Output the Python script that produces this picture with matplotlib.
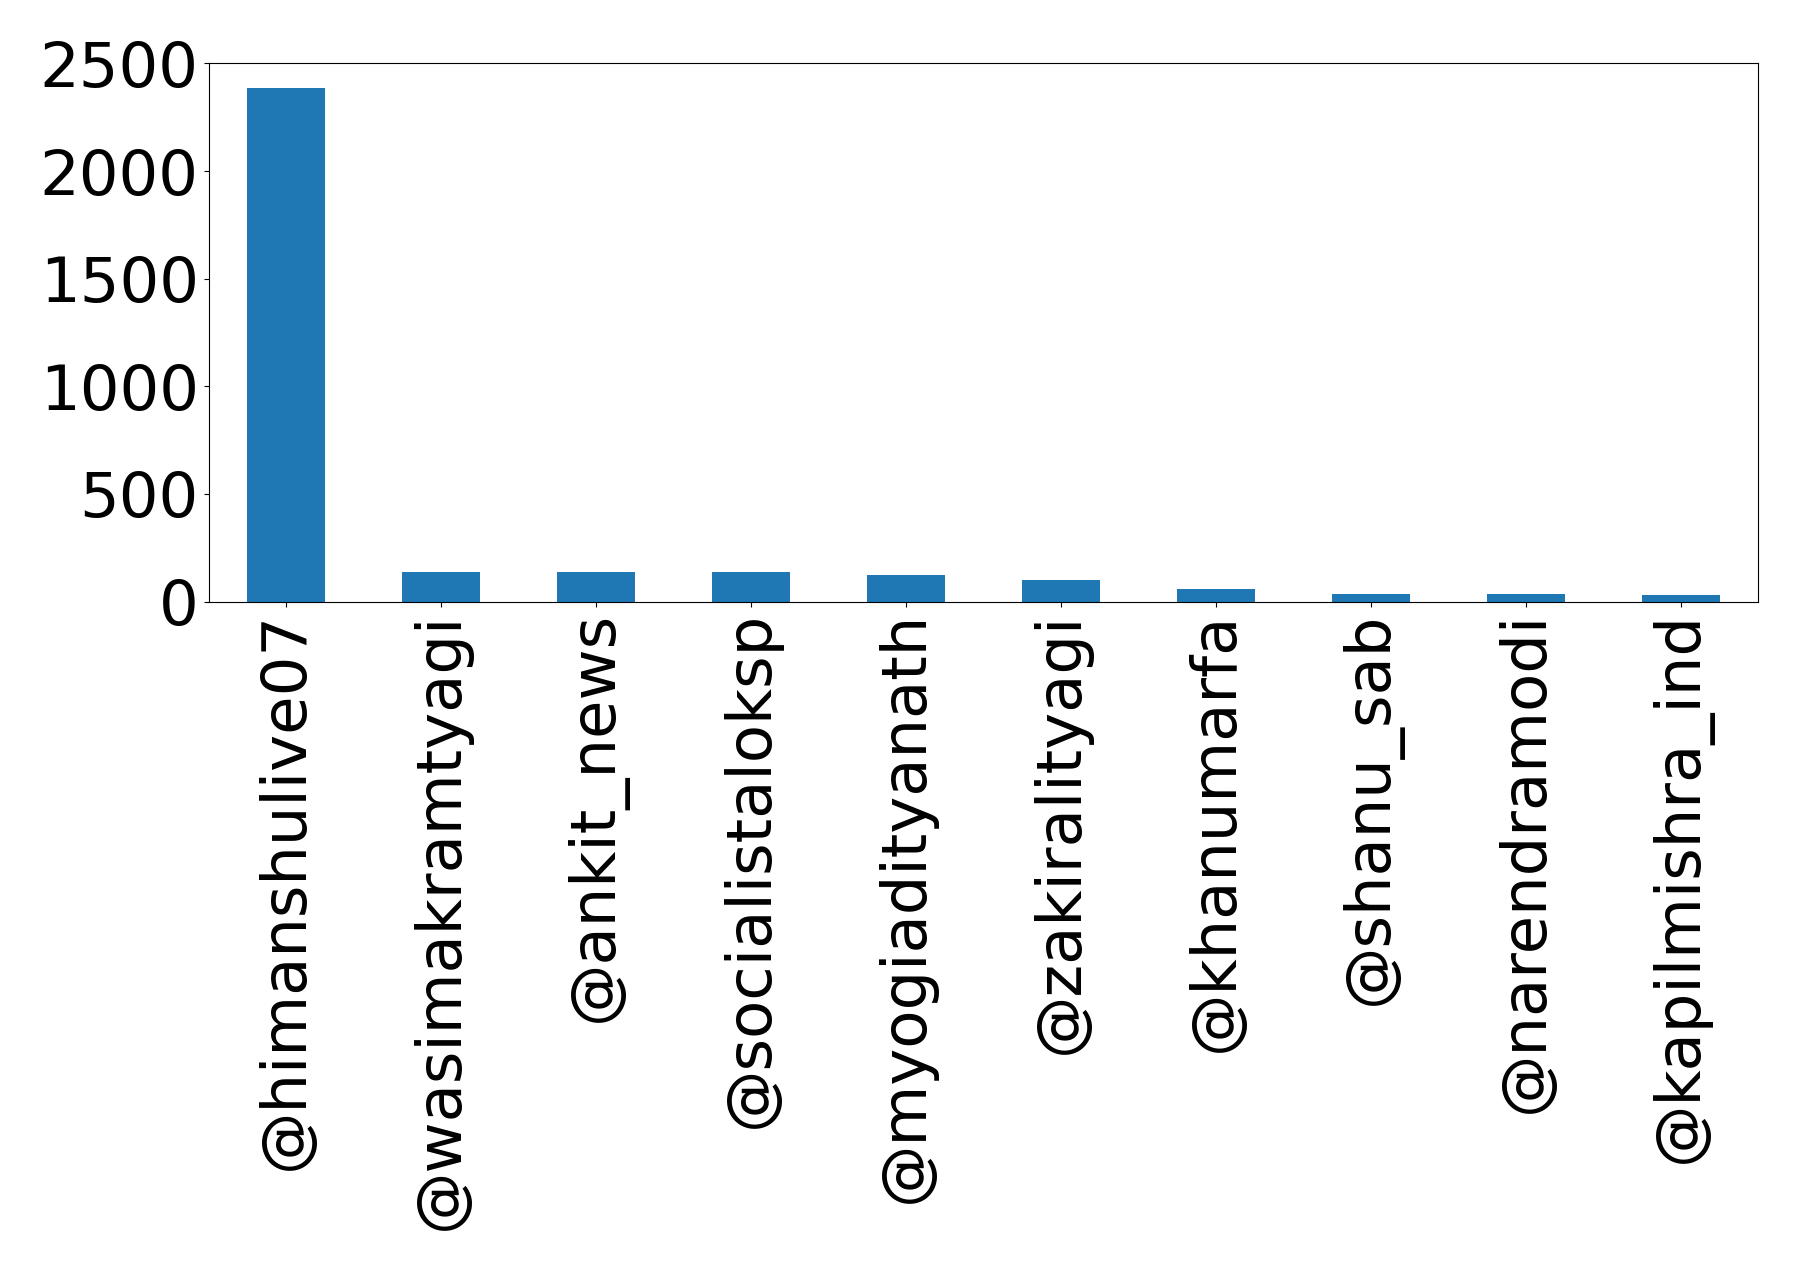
import numpy as np
import pandas as pd
import matplotlib
matplotlib.use("Agg")
import matplotlib.pyplot as plt

users = ["@himanshulive07", "@wasimakramtyagi", "@ankit_news", "@socialistaloksp",
         "@myogiadityanath", "@zakiralityagi", "@khanumarfa", "@shanu_sab",
         "@narendramodi", "@kapilmishra_ind"]
counts = [2385, 139, 139, 135, 125, 102, 56, 37, 33, 28]

series = pd.Series(counts, index=users)

fig, ax = plt.subplots(figsize=(17.98, 12.69), dpi=100)
series.plot(kind="bar", ax=ax, color="#1f77b4", fontsize=45)
ax.set_yticks([0, 500, 1000, 1500, 2000, 2500])
ax.set_ylim(0, 2500)
fig.subplots_adjust(left=0.116, right=0.978, top=0.95, bottom=0.526)
plt.savefig("out.png", dpi=100)
